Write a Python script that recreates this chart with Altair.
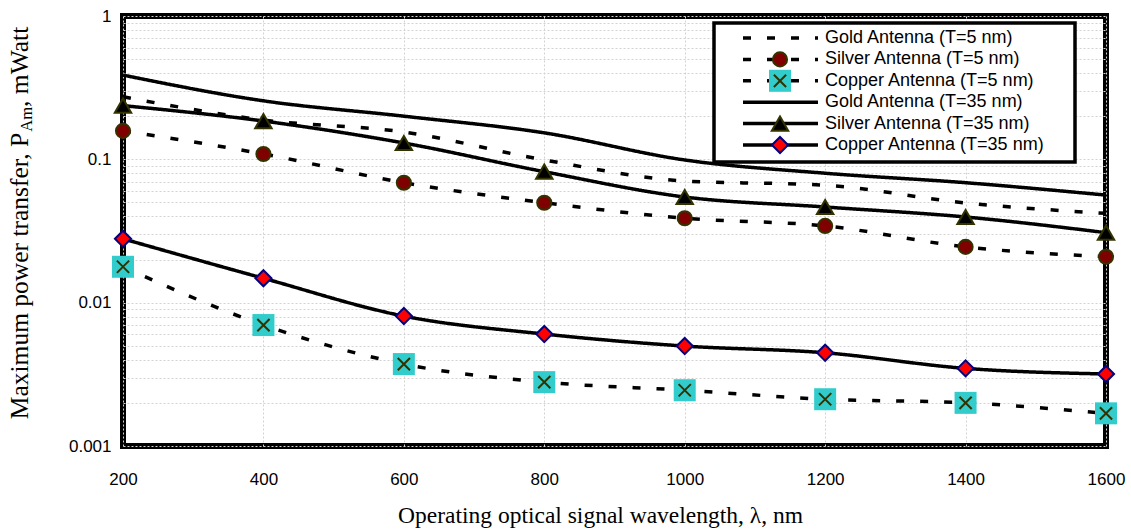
import altair as alt
import pandas as pd

# Wavelength sweep (nm)
wavelength = [200, 400, 600, 800, 1000, 1200, 1400, 1600]

# Maximum power transfer (mWatt) per antenna / thickness
gold_5 = [0.273, 0.188, 0.155, 0.099, 0.0706, 0.066, 0.0496, 0.042]
silver_5 = [0.158, 0.109, 0.0687, 0.0498, 0.0388, 0.0343, 0.0245, 0.0209]
copper_5 = [0.0178, 0.00698, 0.00373, 0.00279, 0.00245, 0.00212, 0.0020, 0.00169]
gold_35 = [0.387, 0.256, 0.200, 0.153, 0.099, 0.080, 0.0687, 0.0563]
silver_35 = [0.237, 0.185, 0.130, 0.082, 0.0546, 0.0465, 0.0396, 0.0308]
copper_35 = [0.0279, 0.0148, 0.00806, 0.00604, 0.00498, 0.00447, 0.00348, 0.00318]

series_names = [
    "Gold Antenna (T=5 nm)",
    "Silver Antenna (T=5 nm)",
    "Copper Antenna (T=5 nm)",
    "Gold Antenna (T=35 nm)",
    "Silver Antenna (T=35 nm)",
    "Copper Antenna (T=35 nm)",
]
series_values = [gold_5, silver_5, copper_5, gold_35, silver_35, copper_35]

x_ticks = [200, 400, 600, 800, 1000, 1200, 1400, 1600]
decades = [0.001, 0.01, 0.1]
y_ticks = [round(k * d, 6) for d in decades for k in range(1, 10)] + [1.0]

rows = []
for name, vals in zip(series_names, series_values):
    for w, v in zip(wavelength, vals):
        rows.append({"wavelength": w, "power": v, "series": name})
df = pd.DataFrame(rows)

W, H = 983, 430
DASH = [8, 16]
SOLID = [1, 0]
OLIVE = "#333300"

x_enc = alt.X(
    "wavelength:Q",
    scale=alt.Scale(domain=[200, 1600], nice=False, zero=False),
    axis=alt.Axis(
        values=x_ticks,
        format="d",
        title="Operating optical signal wavelength, λ, nm",
        titleFont="Liberation Serif",
        titleFontSize=23.5,
        titleFontWeight="normal",
        titleColor="black",
        titleX=477,
        titleY=76,
        titleAlign="center",
        titleBaseline="alphabetic",
        labelFont="Liberation Sans",
        labelFontSize=17,
        labelColor="black",
        labelPadding=25,
        labelFlush=False,
        labelOverlap=False,
        ticks=False,
        domain=False,
        grid=True,
        gridColor="#d2d2d2",
        gridDash=[2, 2],
        gridWidth=1,
    ),
)
y_enc = alt.Y(
    "power:Q",
    scale=alt.Scale(type="log", domain=[0.001, 1], nice=False),
    axis=alt.Axis(
        values=y_ticks,
        title="",
        labelExpr="abs(log(datum.value)/LN10 - round(log(datum.value)/LN10)) < 0.001 ? format(datum.value, '~g') : ''",
        labelFont="Liberation Sans",
        labelFontSize=17,
        labelColor="black",
        labelPadding=12,
        labelOverlap=False,
        ticks=False,
        domain=False,
        grid=True,
        gridColor="#d2d2d2",
        gridDash=[2, 2],
        gridWidth=1,
    ),
)

base = alt.Chart(df)

lines = base.mark_line(interpolate="monotone", strokeWidth=3.5, color="black").encode(
    x=x_enc,
    y=y_enc,
    detail="series:N",
    strokeDash=alt.StrokeDash(
        "series:N",
        scale=alt.Scale(domain=series_names, range=[DASH, DASH, DASH, SOLID, SOLID, SOLID]),
        legend=None,
    ),
)


def markers(name, **mark_kw):
    return base.transform_filter(alt.datum.series == name).mark_point(**mark_kw).encode(
        x="wavelength:Q", y="power:Q"
    )


X_PATH = "M-1,-1L1,1M-1,1L1,-1"

silver5_pts = markers(series_names[1], shape="circle", filled=True, fill="#800000",
                      stroke=OLIVE, strokeWidth=2, size=200, opacity=1)
copper5_sq = markers(series_names[2], shape="square", filled=True, fill="#33CCCC",
                     size=484, opacity=1, strokeWidth=0)
copper5_x = markers(series_names[2], shape=X_PATH, filled=False, stroke=OLIVE,
                    strokeWidth=2, size=150, opacity=1)
silver35_pts = markers(series_names[4], shape="triangle-up", filled=True, fill="black",
                       stroke=OLIVE, strokeWidth=2, size=270, opacity=1)
copper35_pts = markers(series_names[5], shape="diamond", filled=True, fill="#FF0000",
                       stroke="#000080", strokeWidth=2, size=260, opacity=1)

one = alt.Data(values=[{"k": 0}])

# Legend box
legend_layers = [
    alt.Chart(one).mark_rect(fill="white", stroke="black", strokeWidth=3.5).encode(
        x=alt.value(591), x2=alt.value(952), y=alt.value(7), y2=alt.value(146)
    )
]
row_y0, row_step = 22, 21.4
line_x0, line_x1, sym_x, text_x = 620, 695, 657, 702
legend_markers = [
    [],
    [dict(shape="circle", filled=True, fill="#800000", stroke=OLIVE, strokeWidth=2, size=200)],
    [dict(shape="square", filled=True, fill="#33CCCC", strokeWidth=0, size=484),
     dict(shape=X_PATH, filled=False, stroke=OLIVE, strokeWidth=2, size=150)],
    [],
    [dict(shape="triangle-up", filled=True, fill="black", stroke=OLIVE, strokeWidth=2, size=270)],
    [dict(shape="diamond", filled=True, fill="#FF0000", stroke="#000080", strokeWidth=2, size=260)],
]
for i, name in enumerate(series_names):
    yy = row_y0 + row_step * i
    rule_kw = dict(color="black", strokeWidth=3.5)
    if i < 3:
        rule_kw["strokeDash"] = DASH
    legend_layers.append(
        alt.Chart(one).mark_rule(**rule_kw).encode(
            x=alt.value(line_x0), x2=alt.value(line_x1), y=alt.value(yy)
        )
    )
    for mk in legend_markers[i]:
        legend_layers.append(
            alt.Chart(one).mark_point(opacity=1, **mk).encode(x=alt.value(sym_x), y=alt.value(yy))
        )
    legend_layers.append(
        alt.Chart(one).mark_text(
            text=name, align="left", baseline="middle", font="Liberation Sans",
            fontSize=18, color="black"
        ).encode(x=alt.value(text_x), y=alt.value(yy))
    )

# Y-axis title with subscript, drawn as rotated text pieces (Times metrics, em units)
F = 25.5
SUB = 0.65 * F
part1, part2, part3 = "Maximum power transfer, P", "Am", ", mWatt"
w1, w2, w3 = 11.276 * F, 1.5 * SUB, 3.222 * F
total = w1 + w2 + w3
center_y = 222 - 16
start_y = center_y + total / 2
title_x = -95
title_font = dict(font="Liberation Serif", angle=270, align="left",
                  baseline="alphabetic", color="black")
ytitle = [
    alt.Chart(one).mark_text(text=part1, fontSize=F, **title_font).encode(
        x=alt.value(title_x), y=alt.value(start_y)
    ),
    alt.Chart(one).mark_text(text=part2, fontSize=SUB, **title_font).encode(
        x=alt.value(title_x + 4), y=alt.value(start_y - w1)
    ),
    alt.Chart(one).mark_text(text=part3, fontSize=F, **title_font).encode(
        x=alt.value(title_x), y=alt.value(start_y - w1 - w2)
    ),
]

chart = alt.layer(
    lines, silver5_pts, copper5_sq, copper5_x, silver35_pts, copper35_pts,
    *legend_layers, *ytitle
).properties(
    width=W,
    height=H,
    background="white",
    autosize=alt.AutoSizeParams(type="none"),
    padding={"left": 123, "top": 16, "right": 25, "bottom": 83},
).configure_view(
    stroke="black", strokeWidth=6
)

chart.save("out.html", embed_options={"renderer": "svg", "actions": False})
